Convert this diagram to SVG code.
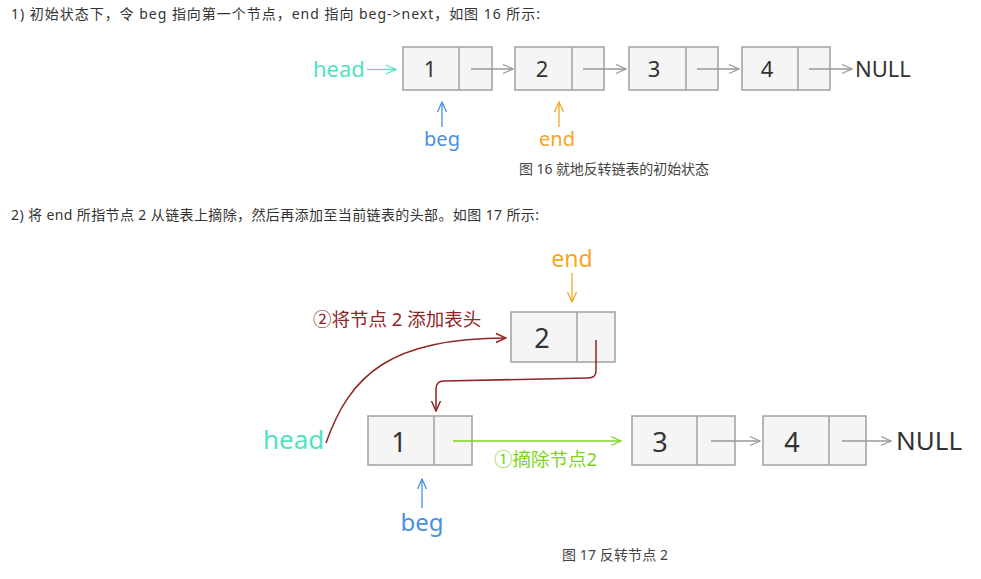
<svg xmlns="http://www.w3.org/2000/svg" width="981" height="579" viewBox="0 0 981 579">
<style>
.t{font-family:"Noto Sans","Noto Sans CJK SC",sans-serif;fill:#333}
.p{font-size:14px}
.cap{font-size:14px;fill:#444}
.box{fill:#f5f5f5;stroke:#a0a0a0;stroke-width:1.5}
.num{font-family:"Noto Sans","Noto Sans CJK SC",sans-serif;fill:#333;text-anchor:middle}
.g{fill:none;stroke:#999;stroke-width:1.3}
.lbl{font-family:"Noto Sans","Noto Sans CJK SC",sans-serif}
</style>
<defs>
<marker id="mg" markerUnits="userSpaceOnUse" viewBox="0 0 12 12" refX="11" refY="6" markerWidth="12" markerHeight="12" orient="auto"><path d="M1,1.5 L11,6 L1,10.5" fill="none" stroke="#999" stroke-width="1.3"/></marker>
<marker id="mt" markerUnits="userSpaceOnUse" viewBox="0 0 12 12" refX="11" refY="6" markerWidth="12" markerHeight="12" orient="auto"><path d="M1,1.5 L11,6 L1,10.5" fill="none" stroke="#50e3c2" stroke-width="1.3"/></marker>
<marker id="mb" markerUnits="userSpaceOnUse" viewBox="0 0 12 12" refX="11" refY="6" markerWidth="12" markerHeight="12" orient="auto"><path d="M1,1.5 L11,6 L1,10.5" fill="none" stroke="#4a90e2" stroke-width="1.3"/></marker>
<marker id="mo" markerUnits="userSpaceOnUse" viewBox="0 0 12 12" refX="11" refY="6" markerWidth="12" markerHeight="12" orient="auto"><path d="M1,1.5 L11,6 L1,10.5" fill="none" stroke="#f5a623" stroke-width="1.3"/></marker>
<marker id="mgr" markerUnits="userSpaceOnUse" viewBox="0 0 12 12" refX="11" refY="6" markerWidth="12" markerHeight="12" orient="auto"><path d="M1,1.5 L11,6 L1,10.5" fill="none" stroke="#7ed321" stroke-width="1.3"/></marker>
<marker id="mr" markerUnits="userSpaceOnUse" viewBox="0 0 12 12" refX="11" refY="6" markerWidth="12" markerHeight="12" orient="auto"><path d="M1,1.5 L11,6 L1,10.5" fill="none" stroke="#8f2525" stroke-width="1.5"/></marker>
</defs>
<rect width="981" height="579" fill="#fff"/>

<text class="t p" x="11" y="19" textLength="529">1) 初始状态下，令 beg 指向第一个节点，end 指向 beg-&gt;next，如图 16 所示:</text>
<text class="t p" x="11" y="220" textLength="528">2) 将 end 所指节点 2 从链表上摘除，然后再添加至当前链表的头部。如图 17 所示:</text>
<text class="t cap" x="519" y="174" textLength="190">图 16 就地反转链表的初始状态</text>
<text class="t cap" x="562" y="560" textLength="106">图 17 反转节点 2</text>

<!-- Figure 16 -->
<g id="f16-node1"><rect class="box" x="403" y="47" width="89" height="43"/><line class="box" x1="459" y1="47" x2="459" y2="90"/><text class="num" x="430" y="77" font-size="22">1</text></g>
<g id="f16-node2"><rect class="box" x="515" y="47" width="89" height="43"/><line class="box" x1="572" y1="47" x2="572" y2="90"/><text class="num" x="542" y="77" font-size="22">2</text></g>
<g id="f16-node3"><rect class="box" x="629" y="47" width="89" height="43"/><line class="box" x1="686" y1="47" x2="686" y2="90"/><text class="num" x="654" y="77" font-size="22">3</text></g>
<g id="f16-node4"><rect class="box" x="742" y="47" width="88" height="43"/><line class="box" x1="798" y1="47" x2="798" y2="90"/><text class="num" x="767" y="77" font-size="22">4</text></g>
<g id="f16-null"><text class="lbl" x="855" y="77" font-size="22" fill="#333">NULL</text></g>
<g id="f16-head"><text class="lbl" x="313" y="77" font-size="22" fill="#50e3c2">head</text></g>
<g id="f16-beg"><text class="lbl" x="442" y="146" font-size="20" fill="#4a90e2" text-anchor="middle">beg</text></g>
<g id="f16-end"><text class="lbl" x="557" y="146" font-size="20" fill="#f5a623" text-anchor="middle">end</text></g>

<g id="f16-connectors">
<line x1="367" y1="69.5" x2="396" y2="69.5" fill="none" stroke="#50e3c2" stroke-width="1.3" marker-end="url(#mt)"/>
<line class="g" x1="471" y1="69" x2="513" y2="69" marker-end="url(#mg)"/>
<line class="g" x1="583" y1="69" x2="626" y2="69" marker-end="url(#mg)"/>
<line class="g" x1="697" y1="69" x2="739" y2="69" marker-end="url(#mg)"/>
<line class="g" x1="809" y1="69" x2="852" y2="69" marker-end="url(#mg)"/>
<line x1="442" y1="127" x2="442" y2="102" fill="none" stroke="#4a90e2" stroke-width="1.3" marker-end="url(#mb)"/>
<line x1="559" y1="127" x2="559" y2="102" fill="none" stroke="#f5a623" stroke-width="1.3" marker-end="url(#mo)"/>
</g>

<!-- Figure 17 -->
<g id="f17-node2"><rect class="box" x="511" y="312" width="104" height="50"/><line class="box" x1="577" y1="312" x2="577" y2="362"/><text class="num" x="542" y="348" font-size="27">2</text></g>
<g id="f17-node1"><rect class="box" x="368" y="416" width="104" height="49"/><line class="box" x1="434" y1="416" x2="434" y2="465"/><text class="num" x="399" y="452" font-size="27">1</text></g>
<g id="f17-node3"><rect class="box" x="632" y="416" width="103" height="49"/><line class="box" x1="697" y1="416" x2="697" y2="465"/><text class="num" x="660" y="452" font-size="27">3</text></g>
<g id="f17-node4"><rect class="box" x="763" y="416" width="103" height="49"/><line class="box" x1="829" y1="416" x2="829" y2="465"/><text class="num" x="792" y="452" font-size="27">4</text></g>
<g id="f17-null"><text class="lbl" x="896" y="450" font-size="26" fill="#333">NULL</text></g>
<g id="f17-head"><text class="lbl" x="263" y="449" font-size="26" fill="#50e3c2">head</text></g>
<g id="f17-beg"><text class="lbl" x="422" y="531" font-size="24" fill="#4a90e2" text-anchor="middle">beg</text></g>
<g id="f17-end"><text class="lbl" x="572" y="267" font-size="23" fill="#f5a623" text-anchor="middle">end</text></g>

<g id="f17-connectors">
<line x1="572" y1="273" x2="572" y2="302" fill="none" stroke="#f5a623" stroke-width="1.3" marker-end="url(#mo)"/>
<path d="M326,443 C350,375 390,338 506,338" fill="none" stroke="#8f2525" stroke-width="1.5" marker-end="url(#mr)"/>
<path d="M596,340 L596,371 Q596,378 588,378 L444,381 Q436,381 436,389 L436,411" fill="none" stroke="#8f2525" stroke-width="1.5" marker-end="url(#mr)"/>
<line x1="453" y1="441" x2="621" y2="441" fill="none" stroke="#7ed321" stroke-width="1.3" marker-end="url(#mgr)"/>
<line class="g" x1="711" y1="441" x2="760" y2="441" marker-end="url(#mg)"/>
<line class="g" x1="842" y1="441" x2="891" y2="441" marker-end="url(#mg)"/>
<line x1="422" y1="508" x2="422" y2="479" fill="none" stroke="#4a90e2" stroke-width="1.3" marker-end="url(#mb)"/>
<text class="lbl" x="313" y="326" font-size="18.5" fill="#8f2525">②将节点 2 添加表头</text>
<text class="lbl" x="494" y="466" font-size="18.5" fill="#7ed321">①摘除节点2</text>
</g>
</svg>
